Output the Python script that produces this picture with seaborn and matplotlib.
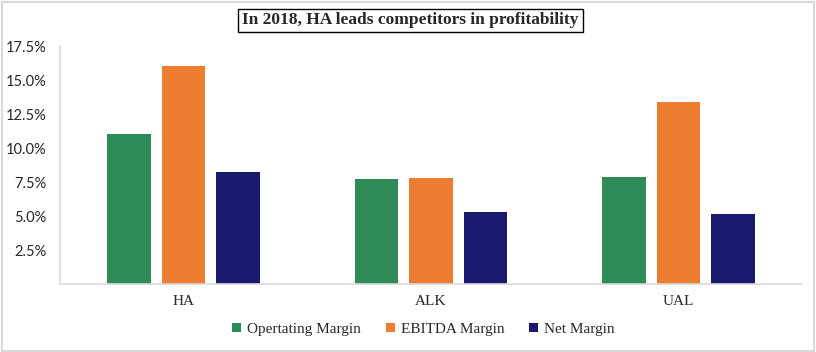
import pandas as pd
import matplotlib.pyplot as plt
import seaborn as sns
from matplotlib.ticker import FuncFormatter

# chart data
airlines = ['HA', 'ALK', 'UAL']
metrics = ['Opertating Margin', 'EBITDA Margin', 'Net Margin']
operating_margin = [11.0, 7.7, 7.9]
ebitda_margin = [16.0, 7.8, 13.4]
net_margin = [8.2, 5.3, 5.15]
yticks = [2.5, 5.0, 7.5, 10.0, 12.5, 15.0, 17.5]

df = pd.DataFrame({
    'Airline': airlines * 3,
    'Metric': [metrics[0]] * 3 + [metrics[1]] * 3 + [metrics[2]] * 3,
    'Value': operating_margin + ebitda_margin + net_margin,
})

sns.set_style('white')
plt.rcParams['font.family'] = ['Liberation Serif', 'DejaVu Serif']

fig = plt.figure(figsize=(8.16, 3.52), dpi=100)
ax = fig.add_axes([60 / 816, 1 - 284 / 352, 742 / 816, 238 / 352])

palette = ['#2E8B57', '#ED7D31', '#1A196E']
sns.barplot(data=df, x='Airline', y='Value', hue='Metric', palette=palette,
            width=0.66, gap=0.2, saturation=1, linewidth=0, ax=ax)

ax.set_xlim(-0.5, 2.5)
ax.set_ylim(0, 17.5)
ax.set_yticks(yticks)
ax.yaxis.set_major_formatter(FuncFormatter(lambda v, p: f'{v:.1f}%'))
ax.set_xlabel('')
ax.set_ylabel('')
for lbl in ax.get_yticklabels():
    lbl.set_family(['Lato', 'DejaVu Sans'])
    lbl.set_fontsize(10.5)
ax.tick_params(axis='x', labelsize=11, pad=8, length=0)
ax.tick_params(axis='y', length=0, pad=10)

for s in ['top', 'right']:
    ax.spines[s].set_visible(False)
for s in ['left', 'bottom']:
    ax.spines[s].set_color('#D9D9D9')
    ax.spines[s].set_linewidth(1.2)

leg = ax.legend(loc='upper center', bbox_to_anchor=(0.49, -0.105), ncol=3,
                frameon=False, fontsize=11, handlelength=0.6, handleheight=0.6,
                handletextpad=0.4, columnspacing=1.6)

fig.text(0.503, 0.942, 'In 2018, HA leads competitors in profitability',
         ha='center', va='center', fontsize=12.5, fontweight='bold',
         bbox=dict(boxstyle='square,pad=0.22', facecolor='white',
                   edgecolor='black', linewidth=1))

# light grey frame around the chart area
fig.patches.append(plt.Rectangle((0.002, 0.002), 0.996, 0.993, transform=fig.transFigure,
                                 fill=False, edgecolor='#D9D9D9', linewidth=1.5))

fig.savefig('out.png', dpi=100)
